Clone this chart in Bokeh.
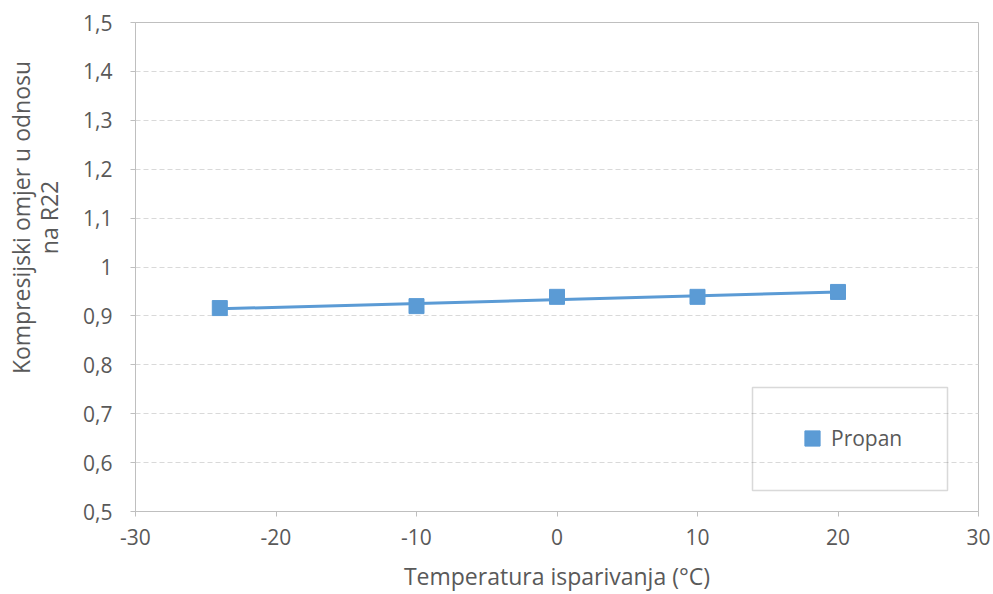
import numpy as np
from bokeh.plotting import figure
from bokeh.layouts import row
from bokeh.models import Range1d, FixedTicker, Label, BoxAnnotation, Legend, LegendItem
from bokeh.embed import file_html
from bokeh.resources import INLINE

# ---- data ----
temps = [-24, -10, 0, 10, 20]
propan = [0.916, 0.920, 0.939, 0.939, 0.949]
series_name = "Propan"

x_ticks = [-30, -20, -10, 0, 10, 20, 30]
x_tick_labels = ["-30", "-20", "-10", "0", "10", "20", "30"]
y_ticks = [0.5, 0.6, 0.7, 0.8, 0.9, 1.0, 1.1, 1.2, 1.3, 1.4, 1.5]
y_tick_labels = ["0,5", "0,6", "0,7", "0,8", "0,9", "1", "1,1", "1,2", "1,3", "1,4", "1,5"]

x_title = "Temperatura isparivanja (°C)"
y_title_lines = ["Kompresijski omjer u odnosu", "na R22"]

FONT = "Open Sans"
TXT = "#595959"
BLUE = "#5b9bd5"
AX = "#bfbfbf"

W, H = 993, 594
TW = 70  # width of the strip that holds the y-axis title

# ---- strip with the y-axis title ----
ft = figure(width=TW, height=H, output_backend="svg", toolbar_location=None,
            x_range=Range1d(0, TW), y_range=Range1d(0, H),
            x_axis_location=None, y_axis_location=None, min_border=0)
ft.outline_line_color = None
ft.xgrid.visible = False
ft.ygrid.visible = False
ft.background_fill_color = "white"
ft.border_fill_color = "white"
# frame of this strip is aligned with the chart's frame (bottom at 512 px)
for xs, line in zip([20.5, 48.5], y_title_lines):
    ft.add_layout(Label(x=xs, y=294, x_units="screen", y_units="screen", text=line,
                        angle=np.pi / 2, text_align="center", text_baseline="middle",
                        text_font=FONT, text_font_size="23px", text_color=TXT))

# ---- main chart ----
p = figure(width=W - TW, height=H, output_backend="svg", toolbar_location=None,
           x_range=Range1d(-30, 30), y_range=Range1d(0.5, 1.5),
           min_border_left=135 - TW, min_border_right=15, min_border_top=22, min_border_bottom=82)
p.background_fill_color = "white"
p.border_fill_color = "white"
p.outline_line_color = AX
p.outline_line_width = 1

p.xgrid.visible = False
p.ygrid.ticker = FixedTicker(ticks=y_ticks)
p.ygrid.grid_line_color = "#d9d9d9"
p.ygrid.grid_line_dash = "5 3"
p.ygrid.grid_line_width = 1

for ax in (p.xaxis[0], p.yaxis[0]):
    ax.axis_line_color = AX
    ax.major_tick_line_color = AX
    ax.major_tick_out = 5
    ax.major_tick_in = 0
    ax.minor_tick_line_color = None
    ax.major_label_text_font = FONT
    ax.major_label_text_font_size = "21px"
    ax.major_label_text_color = TXT

p.xaxis.ticker = FixedTicker(ticks=x_ticks)
p.xaxis.major_label_overrides = dict(zip(x_ticks, x_tick_labels))
p.xaxis.major_label_standoff = 12
p.xaxis.axis_label = x_title
p.xaxis.axis_label_text_font = FONT
p.xaxis.axis_label_text_font_size = "23px"
p.xaxis.axis_label_text_font_style = "normal"
p.xaxis.axis_label_text_color = TXT
p.xaxis.axis_label_standoff = 12

p.yaxis.ticker = FixedTicker(ticks=y_ticks)
p.yaxis.major_label_overrides = dict(zip(y_ticks, y_tick_labels))
p.yaxis.major_label_standoff = 18

# linear trend line through the points
coef = np.polyfit(temps, propan, 1)
trend_x = [min(temps), max(temps)]
trend_y = list(np.polyval(coef, trend_x))
p.line(trend_x, trend_y, line_color=BLUE, line_width=3)

pts = p.scatter(temps, propan, marker="square", size=15, fill_color=BLUE, line_color=BLUE)

# legend box and legend
p.add_layout(BoxAnnotation(left=617, right=812, bottom=21, top=124,
                           left_units="screen", right_units="screen",
                           bottom_units="screen", top_units="screen",
                           fill_alpha=0, line_color="#808080", line_width=1.5))
legend = Legend(items=[LegendItem(label=series_name, renderers=[pts])],
                location=(658, 54), padding=0, margin=0,
                border_line_color=None, background_fill_alpha=0,
                glyph_width=38, glyph_height=38, label_standoff=0,
                label_text_font=FONT, label_text_font_size="21px", label_text_color=TXT)
p.add_layout(legend)

layout = row(ft, p, spacing=0)
open("out.html", "w").write(file_html(layout, INLINE))
